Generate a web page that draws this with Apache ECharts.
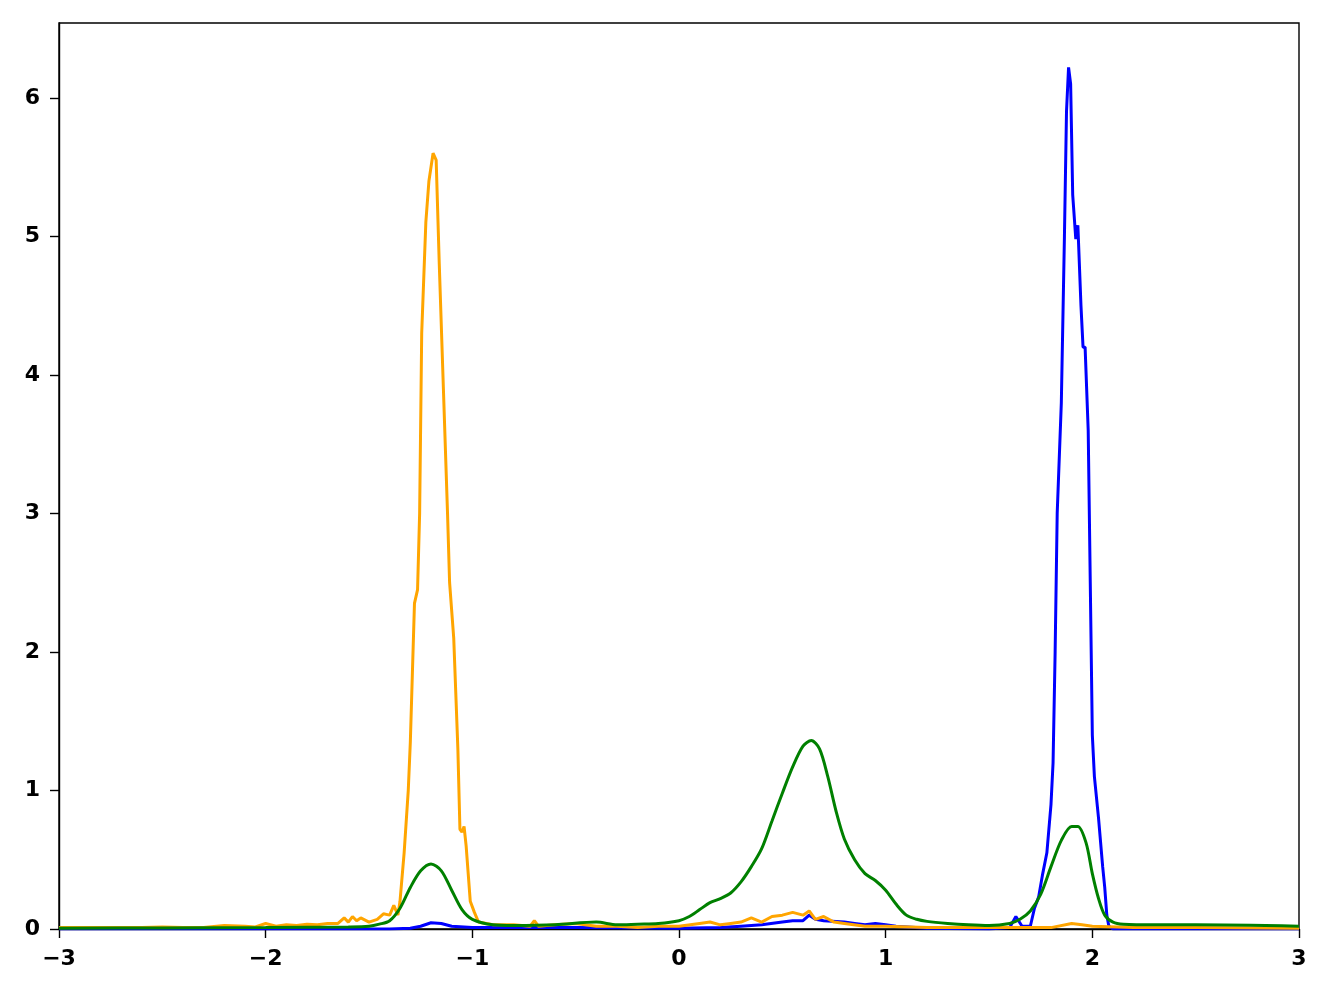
<!DOCTYPE html>
<html><head><meta charset="utf-8">
<script src="https://cdn.jsdelivr.net/npm/echarts@6/dist/echarts.min.js"></script>
<style>html,body{margin:0;padding:0;background:#fff}#c{width:1328px;height:996px}</style>
</head><body><div id="c"></div>
<script>
const xTicks = [-3, -2, -1, 0, 1, 2, 3];
const yTicks = [0, 1, 2, 3, 4, 5, 6];

const orangeX = [-3, -2.8, -2.6, -2.5, -2.4, -2.3, -2.2, -2.1, -2.05, -2.0, -1.95, -1.9, -1.85, -1.8, -1.75, -1.7, -1.65, -1.62, -1.6, -1.58, -1.56, -1.54, -1.5, -1.46, -1.43, -1.4, -1.38, -1.36, -1.35, -1.33, -1.31, -1.30, -1.28, -1.265, -1.255, -1.245, -1.225, -1.21, -1.19, -1.175, -1.16, -1.14, -1.12, -1.11, -1.09, -1.08, -1.07, -1.06, -1.05, -1.04, -1.03, -1.02, -1.01, -0.99, -0.97, -0.9, -0.8, -0.72, -0.7, -0.68, -0.6, -0.5, -0.4, -0.3, -0.2, -0.1, 0, 0.1, 0.15, 0.2, 0.25, 0.3, 0.35, 0.4, 0.45, 0.5, 0.55, 0.6, 0.63, 0.66, 0.7, 0.75, 0.8, 0.9, 1.0, 1.2, 1.5, 1.8, 1.9, 1.95, 2.0, 2.2, 2.5, 3];
const orangeY = [0.01, 0.01, 0.01, 0.015, 0.01, 0.01, 0.025, 0.02, 0.015, 0.04, 0.02, 0.03, 0.025, 0.035, 0.03, 0.04, 0.04, 0.08, 0.05, 0.09, 0.06, 0.08, 0.05, 0.07, 0.11, 0.1, 0.17, 0.1, 0.2, 0.55, 1.0, 1.35, 2.35, 2.45, 3.0, 4.3, 5.1, 5.4, 5.6, 5.55, 4.8, 3.9, 3.0, 2.5, 2.1, 1.7, 1.3, 0.72, 0.7, 0.74, 0.6, 0.4, 0.2, 0.12, 0.05, 0.03, 0.03, 0.02, 0.06, 0.02, 0.03, 0.04, 0.02, 0.02, 0.01, 0.02, 0.02, 0.04, 0.05, 0.03, 0.04, 0.05, 0.08, 0.05, 0.09, 0.1, 0.12, 0.1, 0.13, 0.07, 0.09, 0.05, 0.04, 0.02, 0.02, 0.01, 0.01, 0.01, 0.04, 0.03, 0.02, 0.01, 0.01, 0.005];

const blueX = [-3, -2, -1.4, -1.3, -1.25, -1.2, -1.15, -1.1, -1.0, -0.5, 0, 0.2, 0.3, 0.4, 0.5, 0.55, 0.6, 0.63, 0.66, 0.7, 0.8, 0.85, 0.9, 0.95, 1.0, 1.05, 1.2, 1.5, 1.6, 1.63, 1.66, 1.7, 1.72, 1.74, 1.76, 1.78, 1.80, 1.81, 1.82, 1.83, 1.85, 1.865, 1.875, 1.885, 1.895, 1.905, 1.92, 1.93, 1.945, 1.955, 1.965, 1.98, 1.99, 2.0, 2.01, 2.03, 2.05, 2.06, 2.07, 2.08, 2.1, 2.5, 3];
const blueY = [0, 0, 0, 0.005, 0.02, 0.045, 0.04, 0.02, 0.01, 0.01, 0.005, 0.01, 0.02, 0.03, 0.05, 0.06, 0.06, 0.1, 0.07, 0.06, 0.05, 0.04, 0.03, 0.04, 0.03, 0.02, 0.005, 0.0, 0.01, 0.09, 0.02, 0.02, 0.15, 0.23, 0.4, 0.55, 0.9, 1.2, 2.0, 3.0, 3.8, 5.0, 5.9, 6.22, 6.1, 5.3, 4.98, 5.08, 4.5, 4.2, 4.2, 3.6, 2.5, 1.4, 1.1, 0.8, 0.45, 0.3, 0.1, 0.02, 0.0, 0.0, 0.0];

const greenX = [-3, -2.5, -2, -1.6, -1.5, -1.45, -1.4, -1.35, -1.3, -1.25, -1.2, -1.15, -1.1, -1.05, -1.0, -0.9, -0.8, -0.6, -0.4, -0.3, -0.2, -0.1, 0, 0.05, 0.1, 0.15, 0.2, 0.25, 0.3, 0.35, 0.4, 0.45, 0.5, 0.55, 0.6, 0.64, 0.68, 0.72, 0.76, 0.8, 0.85, 0.9, 0.95, 1.0, 1.05, 1.1, 1.15, 1.2, 1.3, 1.4, 1.5, 1.6, 1.65, 1.7, 1.75, 1.8, 1.85, 1.9, 1.93, 1.97, 2.0, 2.03, 2.06, 2.1, 2.15, 2.3, 2.5, 3];
const greenY = [0.005, 0.008, 0.01, 0.015, 0.02, 0.035, 0.06, 0.15, 0.3, 0.42, 0.47, 0.42, 0.28, 0.14, 0.07, 0.03, 0.025, 0.03, 0.05, 0.03, 0.035, 0.04, 0.06, 0.09, 0.14, 0.19, 0.22, 0.26, 0.34, 0.45, 0.58, 0.78, 0.98, 1.17, 1.32, 1.36, 1.3, 1.1, 0.85, 0.65, 0.5, 0.4, 0.35, 0.28, 0.18, 0.1, 0.07, 0.055, 0.04, 0.03, 0.025, 0.04, 0.07, 0.13, 0.25, 0.45, 0.64, 0.74, 0.74, 0.62, 0.4, 0.22, 0.1, 0.05, 0.035, 0.03, 0.03, 0.02];

function pairs(xs, ys) { return xs.map((x, i) => [x, ys[i]]); }
const fmtMinus = v => (v < 0 ? '\u2212' + Math.abs(v) : String(v));

const chart = echarts.init(document.getElementById('c'), null, {renderer: 'canvas'});
const axisLabel = {color: '#000', fontSize: 22, fontWeight: 'bold', fontFamily: 'DejaVu Sans'};
chart.setOption({
  animation: false,
  backgroundColor: '#fff',
  grid: {left: 59, right: 29, top: 23, bottom: 67, show: true, borderColor: '#000', borderWidth: 1.4, backgroundColor: 'transparent'},
  xAxis: {
    type: 'value', min: -3, max: 3, interval: 1,
    axisLine: {show: true, onZero: false, lineStyle: {color: '#000', width: 1.4}},
    axisTick: {show: true, inside: false, length: 9, lineStyle: {color: '#000', width: 1.4}},
    axisLabel: Object.assign({margin: 19, formatter: v => xTicks.includes(v) ? fmtMinus(v) : ''}, axisLabel),
    splitLine: {show: false}
  },
  yAxis: {
    type: 'value', min: 0, max: 6.54, interval: 1,
    axisLine: {show: true, onZero: false, lineStyle: {color: '#000', width: 1.4}},
    axisTick: {show: true, inside: false, length: 9, lineStyle: {color: '#000', width: 1.4}},
    axisLabel: Object.assign({margin: 19, showMaxLabel: false, formatter: v => yTicks.includes(v) ? String(v) : ''}, axisLabel),
    splitLine: {show: false}
  },
  series: [
    {type: 'line', data: pairs(blueX, blueY), showSymbol: false, lineStyle: {color: '#0000FF', width: 3}, itemStyle: {color: '#0000FF'}, z: 2},
    {type: 'line', data: pairs(orangeX, orangeY), showSymbol: false, lineStyle: {color: '#FFA500', width: 3}, itemStyle: {color: '#FFA500'}, z: 3},
    {type: 'line', data: pairs(greenX, greenY), showSymbol: false, smooth: 0.3, lineStyle: {color: '#008000', width: 3}, itemStyle: {color: '#008000'}, z: 4}
  ]
});
</script></body></html>
